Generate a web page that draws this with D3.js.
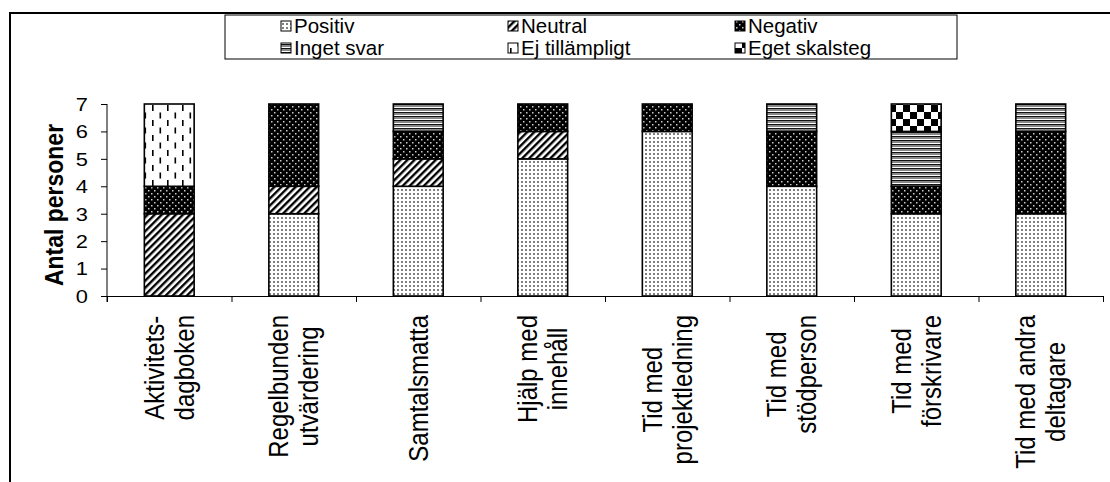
<!DOCTYPE html>
<html>
<head>
<meta charset="utf-8">
<script src="https://cdn.jsdelivr.net/npm/d3@7"></script>
<style>
  body { margin: 0; background: #fff; }
  text { font-family: "Liberation Sans", Arial, sans-serif; fill: #000; }
</style>
</head>
<body>
<div id="chart"></div>
<script>
// data
var categories = ["Aktivitets-\ndagboken", "Regelbunden\nutvärdering", "Samtalsmatta", "Hjälp med\ninnehåll",
  "Tid med\nprojektledning", "Tid med\nstödperson", "Tid med\nförskrivare", "Tid med andra\ndeltagare"];
var seriesNames = ["Positiv", "Neutral", "Negativ", "Inget svar", "Ej tillämpligt", "Eget skalsteg"];
var positiv       = [0, 3, 4, 5, 6, 4, 3, 3];
var neutral       = [3, 1, 1, 1, 0, 0, 0, 0];
var negativ       = [1, 3, 1, 1, 1, 2, 1, 3];
var ingetSvar     = [0, 0, 1, 0, 0, 1, 2, 1];
var ejTillampligt = [3, 0, 0, 0, 0, 0, 0, 0];
var egetSkalsteg  = [0, 0, 0, 0, 0, 0, 1, 0];
var yTicks = [0, 1, 2, 3, 4, 5, 6, 7];

var width = 1110, height = 482;
var margin = ({top: 104, left: 107, right: 6, bottom: 186});

var rows = categories.map(function(c, i) {
  return {cat: c, "Positiv": positiv[i], "Neutral": neutral[i], "Negativ": negativ[i],
    "Inget svar": ingetSvar[i], "Ej tillämpligt": ejTillampligt[i], "Eget skalsteg": egetSkalsteg[i]};
});
var stacked = d3.stack().keys(seriesNames)(rows);

var svg = d3.select('#chart').append('svg')
    .attr('width', width)
    .attr('height', height);

// fill patterns, one per series
var defs = svg.append('defs');
function pattern(id, w, h, bg, attrs) {
  var p = defs.append('pattern').attr('id', id)
    .attr('patternUnits', 'userSpaceOnUse').attr('width', w).attr('height', h);
  if (attrs) p.attr('patternTransform', attrs);
  p.append('rect').attr('width', w).attr('height', h).attr('fill', bg);
  return p;
}
var pp = pattern('p0', 4, 4, '#fff');
pp.append('rect').attr('x', 1).attr('y', 1).attr('width', 2).attr('height', 2).attr('fill', '#9a9a9a');
pp.append('rect').attr('x', 1.5).attr('y', 1.5).attr('width', 1).attr('height', 1).attr('fill', '#333');
var pn = pattern('p1', 5, 5, '#fff', 'rotate(45)');
pn.append('rect').attr('width', 2.4).attr('height', 5).attr('fill', '#000');
var pg = pattern('p2', 6, 6, '#000');
pg.append('rect').attr('x', 1).attr('y', 1).attr('width', 1.5).attr('height', 1.5).attr('fill', '#ccc');
pg.append('rect').attr('x', 4).attr('y', 4).attr('width', 1.5).attr('height', 1.5).attr('fill', '#ccc');
var pi = pattern('p3', 4, 4, '#fff');
pi.append('rect').attr('y', 0).attr('width', 4).attr('height', 1.5).attr('fill', '#111');
pi.append('rect').attr('y', 2).attr('width', 4).attr('height', 1).attr('fill', '#888');
var pe = pattern('p4', 15, 15, '#fff');
pe.append('rect').attr('x', 2).attr('y', 0).attr('width', 1.6).attr('height', 6).attr('fill', '#000');
pe.append('rect').attr('x', 9.5).attr('y', 7.5).attr('width', 1.6).attr('height', 6).attr('fill', '#000');
var pk = pattern('p5', 14, 14, '#fff');
pk.append('rect').attr('width', 7).attr('height', 7).attr('fill', '#000');
pk.append('rect').attr('x', 7).attr('y', 7).attr('width', 7).attr('height', 7).attr('fill', '#000');

// outer frame
svg.append('rect')
    .attr('x', 10).attr('y', 13)
    .attr('width', 1200).attr('height', 600)
    .attr('fill', 'none').attr('stroke', '#000').attr('stroke-width', 2);

// scales
var x = d3.scaleBand()
    .domain(categories)
    .range([margin.left, width - margin.right - 1])
    .paddingInner(0.6).paddingOuter(0.3);
var xEdge = d3.scaleLinear().domain([0, categories.length]).range([margin.left, width - margin.right - 1]);
var y = d3.scaleLinear().domain([0, 7]).range([height - margin.bottom, margin.top]);

// bars
svg.append('g').selectAll('g')
  .data(stacked)
  .join('g')
    .attr('fill', function(d, i) { return 'url(#p' + i + ')'; })
  .selectAll('rect')
  .data(function(d) { return d.filter(function(s) { return s[1] > s[0]; }); })
  .join('rect')
    .attr('x', function(d) { return x(d.data.cat); })
    .attr('y', function(d) { return y(d[1]); })
    .attr('width', x.bandwidth())
    .attr('height', function(d) { return y(d[0]) - y(d[1]); })
    .attr('stroke', '#000')
    .attr('stroke-width', 1.6);

// x axis (ticks at category edges)
var xAxis = svg.append('g')
    .attr('transform', 'translate(0,' + y(0) + ')')
    .call(d3.axisBottom(xEdge).tickValues(d3.range(categories.length + 1)).tickSize(6).tickSizeOuter(0).tickFormat(''));
xAxis.selectAll('path, line').attr('stroke', '#000').attr('stroke-width', 1);

// y axis
var yAxis = svg.append('g')
    .attr('transform', 'translate(' + margin.left + ',0)')
    .call(d3.axisLeft(y).tickValues(yTicks).tickSize(6).tickSizeOuter(0).tickFormat(''));
yAxis.selectAll('path, line').attr('stroke', '#000').attr('stroke-width', 1);
yAxis.select('.domain').attr('d', 'M0,' + y(7) + 'V' + (y(0) + 6));

svg.append('g').selectAll('text')
  .data(yTicks)
  .join('text')
    .attr('transform', function(d) { return 'translate(88,' + y(d) + ') scale(1.15,1)'; })
    .attr('dy', '0.36em')
    .attr('text-anchor', 'end')
    .attr('font-size', 19)
    .text(function(d) { return d; });

svg.append('text')
    .attr('transform', 'translate(63,205) scale(1.1,1) rotate(-90)')
    .attr('text-anchor', 'middle')
    .attr('font-size', 23)
    .attr('font-weight', 'bold')
    .text('Antal personer');

// category labels, rotated, lines centred inside the block
var labelTop = y(0) + 19;
var fs = 24, lh = 27;
svg.append('g').selectAll('g')
  .data(categories)
  .join('g')
    .attr('transform', function(d) { return 'translate(' + (x(d) + x.bandwidth() / 2) + ',' + labelTop + ') scale(1.12,1) rotate(-90)'; })
  .each(function(d) {
    var g = d3.select(this);
    var lines = d.split('\n');
    var t = g.selectAll('text').data(lines).join('text')
      .attr('font-size', fs)
      .attr('text-anchor', 'middle')
      .attr('y', function(l, i) { return (i - (lines.length - 1) / 2) * lh + 0.35 * fs; })
      .text(function(l) { return l; });
    var maxLen = d3.max(t.nodes(), function(n) { return n.getComputedTextLength(); });
    t.attr('x', -maxLen / 2);
  });

// legend
var legend = svg.append('g');
legend.append('rect')
    .attr('x', 225).attr('y', 15).attr('width', 732).attr('height', 44)
    .attr('fill', '#fff').attr('stroke', '#000').attr('stroke-width', 1);
var legX = d3.scaleOrdinal().domain([0, 1, 2]).range([281, 508, 735]);
var legY = d3.scaleOrdinal().domain([0, 1]).range([26, 48]);
var items = legend.selectAll('g.item')
  .data(seriesNames)
  .join('g')
    .attr('class', 'item')
    .attr('transform', function(d, i) { return 'translate(' + legX(i % 3) + ',' + legY(Math.floor(i / 3)) + ')'; });
items.append('rect')
    .attr('x', 0).attr('y', -5).attr('width', 10).attr('height', 10)
    .attr('fill', function(d, i) { return 'url(#p' + i + ')'; })
    .attr('stroke', '#000').attr('stroke-width', 1);
items.append('text')
    .attr('x', 13).attr('dy', '0.36em')
    .attr('font-size', 20.5)
    .text(function(d) { return d; });
</script>
</body>
</html>
